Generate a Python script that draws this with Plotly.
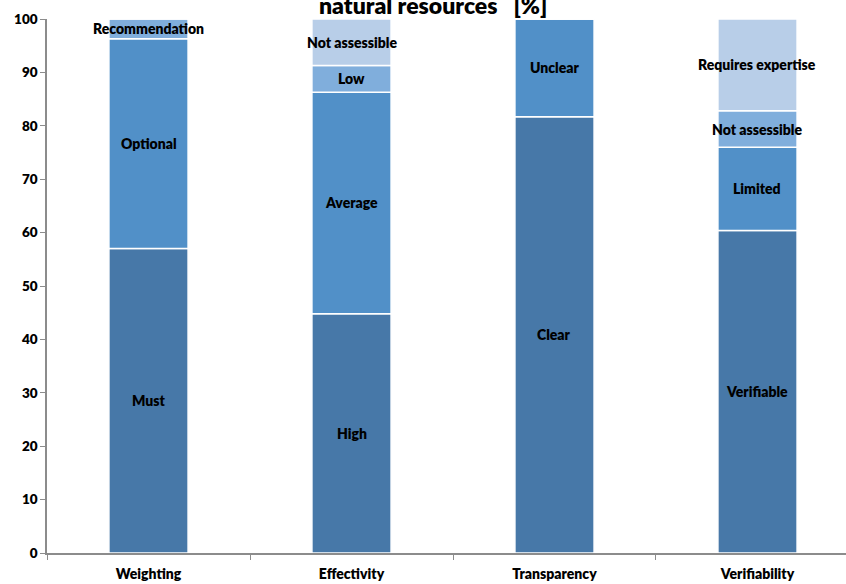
import plotly.graph_objects as go

# Criteria shown on the x axis
categories = ["Weighting", "Effectivity", "Transparency", "Verifiability"]

# Stacked segments per criterion, bottom to top (share in %)
level1_labels = ["Must", "High", "Clear", "Verifiable"]
level1_values = [57.0, 44.8, 81.7, 60.4]

level2_labels = ["Optional", "Average", "Unclear", "Limited"]
level2_values = [39.3, 41.5, 18.3, 15.6]

level3_labels = ["Recommendation", "Low", None, "Not assessible"]
level3_values = [3.7, 5.0, 0.0, 6.8]

level4_labels = [None, "Not assessible", None, "Requires expertise"]
level4_values = [0.0, 8.7, 0.0, 17.2]

y_ticks = list(range(0, 101, 10))

levels = [
    (level1_labels, level1_values, "#4778A8"),
    (level2_labels, level2_values, "#5190C8"),
    (level3_labels, level3_values, "#80AEDC"),
    (level4_labels, level4_values, "#B8CEE8"),
]

FONT = "Lato"

fig = go.Figure()
annotations = []
base = [0.0] * len(categories)
for labels, values, color in levels:
    fig.add_trace(go.Bar(
        x=categories, y=values, base=base[:],
        width=0.39,
        marker=dict(color=color, line=dict(color="white", width=1.5)),
        hoverinfo="skip", showlegend=False,
    ))
    for i, (lab, v) in enumerate(zip(labels, values)):
        if lab and v > 0:
            annotations.append(dict(
                x=categories[i], y=base[i] + v / 2, xref="x", yref="y",
                text=lab, showarrow=False,
                font=dict(family=FONT, size=14, color="black", weight=800),
            ))
    base = [b + v for b, v in zip(base, values)]

# Title line sitting at the very top edge of the page
annotations.append(dict(
    x=0.483, y=1.0, xref="paper", yref="paper", yanchor="bottom",
    text="natural resources   [%]", showarrow=False,
    font=dict(family=FONT, size=23, color="black", weight=800),
    yshift=-2,
))

fig.update_layout(
    barmode="overlay",
    width=846, height=584,
    margin=dict(l=47, r=0, t=19, b=31),
    paper_bgcolor="white", plot_bgcolor="white",
    font=dict(family=FONT, color="black"),
    annotations=annotations,
    xaxis=dict(
        range=[-0.5, 3.436],
        showline=True, linecolor="#8C8C8C", linewidth=1.5,
        ticks="outside", tickson="boundaries", ticklen=5, tickcolor="#8C8C8C",
        tickfont=dict(family=FONT, size=14, color="black", weight=800),
        ticklabelstandoff=7,
        showgrid=False, zeroline=False,
    ),
    yaxis=dict(
        range=[0, 100], tickvals=y_ticks,
        showline=True, linecolor="#8C8C8C", linewidth=1.5,
        ticks="outside", ticklen=5, tickcolor="#8C8C8C",
        tickfont=dict(family=FONT, size=13.5, color="black", weight=800),
        showgrid=False, zeroline=False,
    ),
)

fig.write_html("out.html")
